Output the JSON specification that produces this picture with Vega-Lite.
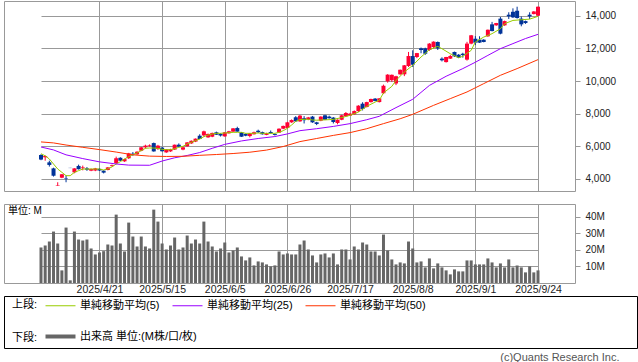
{
  "$schema": "https://vega.github.io/schema/vega-lite/v6.json",
  "padding": {"left": 3, "top": 0, "right": 0, "bottom": 0},
  "background": "white",
  "config": {
    "font": "Liberation Sans, Noto Sans CJK JP",
    "view": {"stroke": "#999999"},
    "axis": {"gridColor": "#999999", "gridWidth": 1, "labelFont": "Liberation Sans, Noto Sans CJK JP", "labelFontSize": 10, "labelColor": "#222222", "domain": false, "ticks": false, "title": null},
    "legend": {"labelFont": "Liberation Sans, Noto Sans CJK JP", "labelFontSize": 11, "labelColor": "#000000", "titleFont": "Liberation Sans, Noto Sans CJK JP", "titleFontSize": 11, "titleFontWeight": "normal", "titleColor": "#000000"}
  },
  "datasets": {
    "k": [
      {"d":"2025-04-01","o":5470,"h":5520,"l":5150,"c":5190,"vol":21.4},
      {"d":"2025-04-02","o":5330,"h":5440,"l":5120,"c":5410,"vol":22.6},
      {"d":"2025-04-03","o":5020,"h":5120,"l":4760,"c":4860,"vol":25},
      {"d":"2025-04-04","o":4650,"h":4690,"l":4150,"c":4200,"vol":31},
      {"d":"2025-04-07","o":3590,"h":3800,"l":3580,"c":3620,"vol":23.8},
      {"d":"2025-04-08","o":4080,"h":4300,"l":4050,"c":4290,"vol":7.6},
      {"d":"2025-04-09","o":4060,"h":4220,"l":3800,"c":4030,"vol":33.4},
      {"d":"2025-04-10","o":4680,"h":4680,"l":4670,"c":4670,"vol":1.6},
      {"d":"2025-04-11","o":4410,"h":4660,"l":4350,"c":4650,"vol":31},
      {"d":"2025-04-14","o":4800,"h":4880,"l":4580,"c":4600,"vol":26.2},
      {"d":"2025-04-15","o":4660,"h":4820,"l":4530,"c":4710,"vol":25.6},
      {"d":"2025-04-16","o":4650,"h":4730,"l":4500,"c":4570,"vol":26.2},
      {"d":"2025-04-17","o":4510,"h":4640,"l":4480,"c":4610,"vol":20.8},
      {"d":"2025-04-18","o":4520,"h":4680,"l":4480,"c":4650,"vol":17.2},
      {"d":"2025-04-21","o":4620,"h":4660,"l":4490,"c":4520,"vol":18.4},
      {"d":"2025-04-22","o":4510,"h":4530,"l":4340,"c":4390,"vol":19.2},
      {"d":"2025-04-23","o":4550,"h":4730,"l":4530,"c":4710,"vol":23.2},
      {"d":"2025-04-24","o":4790,"h":4880,"l":4760,"c":4840,"vol":22.6},
      {"d":"2025-04-25","o":4980,"h":5370,"l":4900,"c":5270,"vol":41.2},
      {"d":"2025-04-28","o":5300,"h":5330,"l":5100,"c":5120,"vol":23.8},
      {"d":"2025-04-30","o":5080,"h":5240,"l":5050,"c":5220,"vol":19},
      {"d":"2025-05-01","o":5270,"h":5600,"l":5230,"c":5570,"vol":36.4},
      {"d":"2025-05-02","o":5550,"h":5650,"l":5420,"c":5510,"vol":28},
      {"d":"2025-05-07","o":5510,"h":5700,"l":5480,"c":5670,"vol":22},
      {"d":"2025-05-08","o":5730,"h":5960,"l":5700,"c":5940,"vol":28},
      {"d":"2025-05-09","o":5940,"h":6100,"l":5860,"c":6040,"vol":22},
      {"d":"2025-05-12","o":6010,"h":6120,"l":5980,"c":6060,"vol":20.8},
      {"d":"2025-05-13","o":6200,"h":6230,"l":5670,"c":5690,"vol":44.2},
      {"d":"2025-05-14","o":5840,"h":6090,"l":5780,"c":6040,"vol":37},
      {"d":"2025-05-15","o":5920,"h":5960,"l":5680,"c":5700,"vol":23.8},
      {"d":"2025-05-16","o":5630,"h":5830,"l":5600,"c":5820,"vol":20.2},
      {"d":"2025-05-19","o":5690,"h":5850,"l":5660,"c":5820,"vol":22.6},
      {"d":"2025-05-20","o":5800,"h":6110,"l":5780,"c":6100,"vol":27.4},
      {"d":"2025-05-21","o":6100,"h":6180,"l":5960,"c":5980,"vol":20.2},
      {"d":"2025-05-22","o":5800,"h":6000,"l":5760,"c":5940,"vol":21.4},
      {"d":"2025-05-23","o":6000,"h":6260,"l":5980,"c":6240,"vol":28.6},
      {"d":"2025-05-26","o":6180,"h":6360,"l":6150,"c":6340,"vol":23.8},
      {"d":"2025-05-27","o":6290,"h":6480,"l":6260,"c":6470,"vol":26.2},
      {"d":"2025-05-28","o":6650,"h":6740,"l":6430,"c":6450,"vol":23.8},
      {"d":"2025-05-29","o":6670,"h":6960,"l":6600,"c":6920,"vol":37},
      {"d":"2025-05-30","o":6550,"h":6780,"l":6520,"c":6760,"vol":25},
      {"d":"2025-06-02","o":6590,"h":6840,"l":6560,"c":6820,"vol":22},
      {"d":"2025-06-03","o":6860,"h":6900,"l":6700,"c":6710,"vol":19},
      {"d":"2025-06-04","o":6760,"h":6800,"l":6600,"c":6660,"vol":20.8},
      {"d":"2025-06-05","o":6610,"h":6880,"l":6590,"c":6860,"vol":24.4},
      {"d":"2025-06-06","o":6800,"h":6950,"l":6780,"c":6920,"vol":18.4},
      {"d":"2025-06-09","o":6900,"h":7120,"l":6880,"c":7100,"vol":19.6},
      {"d":"2025-06-10","o":7120,"h":7200,"l":6890,"c":6900,"vol":21.4},
      {"d":"2025-06-11","o":6860,"h":6870,"l":6580,"c":6590,"vol":16},
      {"d":"2025-06-12","o":6760,"h":6790,"l":6620,"c":6650,"vol":13.6},
      {"d":"2025-06-13","o":6630,"h":6820,"l":6550,"c":6800,"vol":15.4},
      {"d":"2025-06-16","o":6740,"h":6900,"l":6720,"c":6860,"vol":10.6},
      {"d":"2025-06-17","o":6960,"h":7020,"l":6820,"c":6860,"vol":13},
      {"d":"2025-06-18","o":6870,"h":6900,"l":6720,"c":6740,"vol":12.4},
      {"d":"2025-06-19","o":6700,"h":6830,"l":6680,"c":6800,"vol":11.2},
      {"d":"2025-06-20","o":6880,"h":6970,"l":6780,"c":6800,"vol":10},
      {"d":"2025-06-23","o":6760,"h":6790,"l":6660,"c":6700,"vol":10.6},
      {"d":"2025-06-24","o":6840,"h":7100,"l":6820,"c":7080,"vol":19},
      {"d":"2025-06-25","o":7080,"h":7270,"l":7050,"c":7250,"vol":17.2},
      {"d":"2025-06-26","o":7120,"h":7500,"l":7100,"c":7470,"vol":17.8},
      {"d":"2025-06-27","o":7470,"h":7650,"l":7440,"c":7610,"vol":17.2},
      {"d":"2025-06-30","o":7780,"h":7850,"l":7500,"c":7530,"vol":17.2},
      {"d":"2025-07-01","o":7530,"h":7920,"l":7500,"c":7880,"vol":23.2},
      {"d":"2025-07-02","o":7720,"h":7850,"l":7400,"c":7600,"vol":25.6},
      {"d":"2025-07-03","o":7650,"h":7800,"l":7600,"c":7770,"vol":20.2},
      {"d":"2025-07-04","o":7820,"h":7860,"l":7440,"c":7470,"vol":16.6},
      {"d":"2025-07-07","o":7470,"h":7500,"l":7300,"c":7370,"vol":12.4},
      {"d":"2025-07-08","o":7570,"h":7840,"l":7540,"c":7820,"vol":17.2},
      {"d":"2025-07-09","o":7900,"h":7930,"l":7610,"c":7630,"vol":17.8},
      {"d":"2025-07-10","o":7820,"h":7880,"l":7700,"c":7720,"vol":15.4},
      {"d":"2025-07-11","o":7760,"h":7790,"l":7400,"c":7490,"vol":17.8},
      {"d":"2025-07-14","o":7430,"h":7650,"l":7350,"c":7630,"vol":11.2},
      {"d":"2025-07-15","o":7630,"h":7930,"l":7600,"c":7900,"vol":20.2},
      {"d":"2025-07-16","o":7840,"h":8100,"l":7820,"c":8040,"vol":20.2},
      {"d":"2025-07-17","o":7880,"h":8050,"l":7860,"c":8000,"vol":14.2},
      {"d":"2025-07-18","o":7960,"h":8200,"l":7940,"c":8160,"vol":22},
      {"d":"2025-07-22","o":8160,"h":8520,"l":8100,"c":8490,"vol":20.2},
      {"d":"2025-07-23","o":8610,"h":8700,"l":8200,"c":8290,"vol":24.4},
      {"d":"2025-07-24","o":8410,"h":8730,"l":8380,"c":8710,"vol":23.2},
      {"d":"2025-07-25","o":8710,"h":8920,"l":8680,"c":8900,"vol":19},
      {"d":"2025-07-28","o":8920,"h":8960,"l":8760,"c":8780,"vol":19},
      {"d":"2025-07-29","o":8710,"h":8960,"l":8690,"c":8940,"vol":16.6},
      {"d":"2025-07-30","o":9250,"h":9780,"l":9200,"c":9710,"vol":29.2},
      {"d":"2025-07-31","o":9980,"h":10420,"l":9900,"c":10390,"vol":19.6},
      {"d":"2025-08-01","o":10050,"h":10400,"l":9950,"c":10380,"vol":14.2},
      {"d":"2025-08-04","o":9850,"h":10320,"l":9750,"c":10290,"vol":11.2},
      {"d":"2025-08-05","o":10410,"h":10700,"l":10380,"c":10690,"vol":12.4},
      {"d":"2025-08-06","o":10410,"h":10980,"l":10300,"c":10960,"vol":11.8},
      {"d":"2025-08-07","o":10920,"h":11780,"l":10860,"c":11530,"vol":25},
      {"d":"2025-08-08","o":11530,"h":11880,"l":10860,"c":11000,"vol":20.8},
      {"d":"2025-08-12","o":11470,"h":11720,"l":11400,"c":11710,"vol":12.4},
      {"d":"2025-08-13","o":12000,"h":12050,"l":11700,"c":11900,"vol":13},
      {"d":"2025-08-14","o":12000,"h":12040,"l":11600,"c":11670,"vol":9.4},
      {"d":"2025-08-15","o":11900,"h":12320,"l":11850,"c":12290,"vol":14.8},
      {"d":"2025-08-18","o":12080,"h":12430,"l":12000,"c":12410,"vol":8.8},
      {"d":"2025-08-19","o":12390,"h":12420,"l":11900,"c":12000,"vol":11.8},
      {"d":"2025-08-20","o":11370,"h":11450,"l":11200,"c":11270,"vol":9.4},
      {"d":"2025-08-21","o":11160,"h":11480,"l":11130,"c":11470,"vol":7.6},
      {"d":"2025-08-22","o":11370,"h":11600,"l":11350,"c":11530,"vol":5.2},
      {"d":"2025-08-25","o":11780,"h":11800,"l":11480,"c":11510,"vol":8.2},
      {"d":"2025-08-26","o":11610,"h":11650,"l":11400,"c":11430,"vol":7},
      {"d":"2025-08-27","o":11670,"h":11730,"l":11430,"c":11590,"vol":7},
      {"d":"2025-08-28","o":11310,"h":12400,"l":11250,"c":12290,"vol":13.6},
      {"d":"2025-08-29","o":12290,"h":12820,"l":12250,"c":12800,"vol":13.6},
      {"d":"2025-09-01","o":12590,"h":12750,"l":12200,"c":12350,"vol":11.2},
      {"d":"2025-09-02","o":12530,"h":12740,"l":12330,"c":12350,"vol":11.2},
      {"d":"2025-09-03","o":12530,"h":12560,"l":12370,"c":12390,"vol":11.2},
      {"d":"2025-09-04","o":12740,"h":13150,"l":12700,"c":13140,"vol":14.8},
      {"d":"2025-09-05","o":13470,"h":13620,"l":13040,"c":13060,"vol":12.4},
      {"d":"2025-09-08","o":13410,"h":13560,"l":13380,"c":13550,"vol":9.4},
      {"d":"2025-09-09","o":13820,"h":13920,"l":12860,"c":12900,"vol":11.8},
      {"d":"2025-09-10","o":13410,"h":13700,"l":13380,"c":13670,"vol":9.4},
      {"d":"2025-09-11","o":14060,"h":14210,"l":13800,"c":13960,"vol":14.2},
      {"d":"2025-09-12","o":14240,"h":14450,"l":13860,"c":13900,"vol":9.4},
      {"d":"2025-09-16","o":14310,"h":14550,"l":13820,"c":13860,"vol":10.6},
      {"d":"2025-09-17","o":13820,"h":13950,"l":13350,"c":13470,"vol":9.4},
      {"d":"2025-09-18","o":13670,"h":13700,"l":13500,"c":13550,"vol":6.4},
      {"d":"2025-09-19","o":14060,"h":14210,"l":13800,"c":13960,"vol":10},
      {"d":"2025-09-22","o":14100,"h":14280,"l":14080,"c":14260,"vol":6.4},
      {"d":"2025-09-24","o":14000,"h":14560,"l":13980,"c":14550,"vol":7.6}
    ],
    "ma": [
      {"d":"2025-04-01","s":"5","v":5550},{"d":"2025-04-02","s":"5","v":5420},{"d":"2025-04-03","s":"5","v":5225},{"d":"2025-04-04","s":"5","v":4918},
      {"d":"2025-04-07","s":"5","v":4612},{"d":"2025-04-08","s":"5","v":4408},{"d":"2025-04-09","s":"5","v":4204},{"d":"2025-04-10","s":"5","v":4204},
      {"d":"2025-04-11","s":"5","v":4408},{"d":"2025-04-14","s":"5","v":4510},{"d":"2025-04-15","s":"5","v":4612},{"d":"2025-04-16","s":"5","v":4612},
      {"d":"2025-04-17","s":"5","v":4612},{"d":"2025-04-18","s":"5","v":4612},{"d":"2025-04-21","s":"5","v":4612},{"d":"2025-04-22","s":"5","v":4551},
      {"d":"2025-04-23","s":"5","v":4620},{"d":"2025-04-24","s":"5","v":4740},{"d":"2025-04-25","s":"5","v":4918},{"d":"2025-04-28","s":"5","v":5061},
      {"d":"2025-04-30","s":"5","v":5225},{"d":"2025-05-01","s":"5","v":5367},{"d":"2025-05-02","s":"5","v":5490},{"d":"2025-05-07","s":"5","v":5592},
      {"d":"2025-05-08","s":"5","v":5735},{"d":"2025-05-09","s":"5","v":5878},{"d":"2025-05-12","s":"5","v":5898},{"d":"2025-05-13","s":"5","v":5898},
      {"d":"2025-05-14","s":"5","v":5878},{"d":"2025-05-15","s":"5","v":5816},{"d":"2025-05-16","s":"5","v":5796},{"d":"2025-05-19","s":"5","v":5796},
      {"d":"2025-05-20","s":"5","v":5857},{"d":"2025-05-21","s":"5","v":5939},{"d":"2025-05-22","s":"5","v":6000},{"d":"2025-05-23","s":"5","v":6143},
      {"d":"2025-05-26","s":"5","v":6245},{"d":"2025-05-27","s":"5","v":6347},{"d":"2025-05-28","s":"5","v":6449},{"d":"2025-05-29","s":"5","v":6592},
      {"d":"2025-05-30","s":"5","v":6694},{"d":"2025-06-02","s":"5","v":6755},{"d":"2025-06-03","s":"5","v":6796},{"d":"2025-06-04","s":"5","v":6796},
      {"d":"2025-06-05","s":"5","v":6816},{"d":"2025-06-06","s":"5","v":6837},{"d":"2025-06-09","s":"5","v":6857},{"d":"2025-06-10","s":"5","v":6857},
      {"d":"2025-06-11","s":"5","v":6857},{"d":"2025-06-12","s":"5","v":6796},{"d":"2025-06-13","s":"5","v":6796},{"d":"2025-06-16","s":"5","v":6796},
      {"d":"2025-06-17","s":"5","v":6816},{"d":"2025-06-18","s":"5","v":6796},{"d":"2025-06-19","s":"5","v":6796},{"d":"2025-06-20","s":"5","v":6796},
      {"d":"2025-06-23","s":"5","v":6796},{"d":"2025-06-24","s":"5","v":6857},{"d":"2025-06-25","s":"5","v":6959},{"d":"2025-06-26","s":"5","v":7102},
      {"d":"2025-06-27","s":"5","v":7306},{"d":"2025-06-30","s":"5","v":7531},{"d":"2025-07-01","s":"5","v":7640},{"d":"2025-07-02","s":"5","v":7653},
      {"d":"2025-07-03","s":"5","v":7660},{"d":"2025-07-04","s":"5","v":7613},{"d":"2025-07-07","s":"5","v":7600},{"d":"2025-07-08","s":"5","v":7613},
      {"d":"2025-07-09","s":"5","v":7620},{"d":"2025-07-11","s":"5","v":7650},{"d":"2025-07-15","s":"5","v":7760},{"d":"2025-07-17","s":"5","v":7900},
      {"d":"2025-07-22","s":"5","v":8100},{"d":"2025-07-24","s":"5","v":8450},{"d":"2025-07-28","s":"5","v":8710},{"d":"2025-07-29","s":"5","v":8820},
      {"d":"2025-07-30","s":"5","v":9270},{"d":"2025-08-01","s":"5","v":9670},{"d":"2025-08-04","s":"5","v":10040},{"d":"2025-08-06","s":"5","v":10550},
      {"d":"2025-08-08","s":"5","v":10960},{"d":"2025-08-13","s":"5","v":11470},{"d":"2025-08-15","s":"5","v":11920},{"d":"2025-08-19","s":"5","v":12120},
      {"d":"2025-08-20","s":"5","v":11980},{"d":"2025-08-22","s":"5","v":11670},{"d":"2025-08-26","s":"5","v":11430},{"d":"2025-08-27","s":"5","v":11510},
      {"d":"2025-08-29","s":"5","v":11880},{"d":"2025-09-01","s":"5","v":12390},{"d":"2025-09-03","s":"5","v":12690},{"d":"2025-09-05","s":"5","v":12900},
      {"d":"2025-09-09","s":"5","v":13200},{"d":"2025-09-10","s":"5","v":13510},{"d":"2025-09-12","s":"5","v":13710},{"d":"2025-09-17","s":"5","v":13750},
      {"d":"2025-09-19","s":"5","v":13790},{"d":"2025-09-24","s":"5","v":13960},
      {"d":"2025-04-01","s":"25","v":5960},{"d":"2025-04-04","s":"25","v":5780},{"d":"2025-04-09","s":"25","v":5480},{"d":"2025-04-15","s":"25","v":5250},
      {"d":"2025-04-21","s":"25","v":5050},{"d":"2025-04-25","s":"25","v":4920},{"d":"2025-05-01","s":"25","v":4850},{"d":"2025-05-12","s":"25","v":4840},
      {"d":"2025-05-15","s":"25","v":5100},{"d":"2025-05-20","s":"25","v":5300},{"d":"2025-05-23","s":"25","v":5440},{"d":"2025-05-28","s":"25","v":5620},
      {"d":"2025-06-02","s":"25","v":5880},{"d":"2025-06-05","s":"25","v":6120},{"d":"2025-06-11","s":"25","v":6330},{"d":"2025-06-17","s":"25","v":6480},
      {"d":"2025-06-23","s":"25","v":6600},{"d":"2025-06-26","s":"25","v":6760},{"d":"2025-07-01","s":"25","v":6960},{"d":"2025-07-07","s":"25","v":7080},
      {"d":"2025-07-11","s":"25","v":7220},{"d":"2025-07-17","s":"25","v":7390},{"d":"2025-07-24","s":"25","v":7630},{"d":"2025-07-29","s":"25","v":7840},
      {"d":"2025-08-04","s":"25","v":8370},{"d":"2025-08-08","s":"25","v":8880},{"d":"2025-08-15","s":"25","v":9730},{"d":"2025-08-21","s":"25","v":10290},
      {"d":"2025-08-27","s":"25","v":10760},{"d":"2025-09-01","s":"25","v":11150},{"d":"2025-09-04","s":"25","v":11570},{"d":"2025-09-09","s":"25","v":11980},
      {"d":"2025-09-12","s":"25","v":12290},{"d":"2025-09-18","s":"25","v":12600},{"d":"2025-09-24","s":"25","v":12860},
      {"d":"2025-04-01","s":"50","v":6270},{"d":"2025-04-04","s":"50","v":6210},{"d":"2025-04-09","s":"50","v":6080},{"d":"2025-04-15","s":"50","v":5940},
      {"d":"2025-04-21","s":"50","v":5800},{"d":"2025-04-25","s":"50","v":5650},{"d":"2025-05-02","s":"50","v":5480},{"d":"2025-05-12","s":"50","v":5400},
      {"d":"2025-05-16","s":"50","v":5380},{"d":"2025-05-22","s":"50","v":5390},{"d":"2025-05-28","s":"50","v":5450},{"d":"2025-06-03","s":"50","v":5500},
      {"d":"2025-06-09","s":"50","v":5560},{"d":"2025-06-13","s":"50","v":5640},{"d":"2025-06-19","s":"50","v":5770},{"d":"2025-06-25","s":"50","v":5990},
      {"d":"2025-07-01","s":"50","v":6290},{"d":"2025-07-07","s":"50","v":6480},{"d":"2025-07-11","s":"50","v":6670},{"d":"2025-07-17","s":"50","v":6840},
      {"d":"2025-07-24","s":"50","v":7080},{"d":"2025-07-30","s":"50","v":7390},{"d":"2025-08-05","s":"50","v":7690},{"d":"2025-08-08","s":"50","v":7960},
      {"d":"2025-08-18","s":"50","v":8510},{"d":"2025-08-22","s":"50","v":8920},{"d":"2025-08-28","s":"50","v":9330},{"d":"2025-09-03","s":"50","v":9840},
      {"d":"2025-09-09","s":"50","v":10350},{"d":"2025-09-16","s":"50","v":10760},{"d":"2025-09-24","s":"50","v":11310}
    ]
  },
  "title": {"text": "(c)Quants Research Inc.", "orient": "bottom", "anchor": "end", "fontSize": 11, "fontWeight": "normal", "color": "#555555", "offset": 3, "dx": -18, "font": "Liberation Sans"},
  "spacing": 0,
  "resolve": {"scale": {"color": "independent", "stroke": "independent"}, "legend": {"color": "independent", "stroke": "independent"}},
  "vconcat": [
    {
      "spacing": 11,
      "vconcat": [
        {
          "width": 571,
          "height": 190,
          "layer": [
            {
              "data": {"name": "k"},
              "mark": {"type": "rule", "strokeWidth": 1},
              "encoding": {
                "x": {"field": "d", "type": "ordinal", "scale": {"type": "point", "padding": 0, "range": [37, 534]},
                      "axis": {"values": ["2025-04-21","2025-05-15","2025-06-05","2025-06-26","2025-07-17","2025-08-08","2025-09-01","2025-09-24"], "labels": false, "ticks": false, "domain": false, "grid": true, "title": null}},
                "y": {"field": "l", "type": "quantitative", "scale": {"domain": [3265, 14900], "nice": false, "zero": false},
                      "axis": {"orient": "right", "values": [4000, 6000, 8000, 10000, 12000, 14000], "tickCount": 20, "labelExpr": "format(datum.value, ',')", "labelOverlap": false, "ticks": true, "tickSize": 5, "tickColor": "#999999", "labelPadding": 5, "grid": true, "title": null}},
                "y2": {"field": "h"},
                "color": {"condition": {"test": "datum.c >= datum.o", "value": "#ff0033"}, "value": "#003399"}
              }
            },
            {
              "data": {"name": "k"},
              "mark": {"type": "bar", "width": 4},
              "encoding": {
                "x": {"field": "d", "type": "ordinal"},
                "y": {"field": "o", "type": "quantitative"},
                "y2": {"field": "c"},
                "color": {"condition": {"test": "datum.c >= datum.o", "value": "#ff0033"}, "value": "#003399"}
              }
            },
            {
              "data": {"name": "ma"},
              "mark": {"type": "line", "strokeWidth": 1},
              "encoding": {
                "x": {"field": "d", "type": "ordinal"},
                "y": {"field": "v", "type": "quantitative"},
                "color": {"field": "s", "type": "nominal", "scale": {"domain": ["5", "25", "50"], "range": ["#99cc00", "#9900ff", "#ff3300"]}, "legend": null}
              }
            }
          ]
        },
        {
          "width": 571,
          "height": 79,
          "title": {"text": "単位: M", "anchor": "start", "frame": "group", "orient": "top", "offset": -12, "fontSize": 10, "fontWeight": "normal", "color": "#000000", "dx": 4, "font": "Liberation Sans, Noto Sans CJK JP"},
          "data": {"name": "k"},
          "mark": {"type": "bar", "width": 3, "color": "#666666"},
          "encoding": {
            "x": {"field": "d", "type": "ordinal", "scale": {"type": "point", "padding": 0, "range": [37, 534]},
                  "axis": {"values": ["2025-04-21","2025-05-15","2025-06-05","2025-06-26","2025-07-17","2025-08-08","2025-09-01","2025-09-24"],
                           "labelExpr": "utcFormat(toDate(datum.value), '%Y/%-m/%-d')", "labelAngle": 0, "labelPadding": 1, "labelFontSize": 10.5, "ticks": false, "domain": false, "grid": true, "title": null, "labelOverlap": false}},
            "y": {"field": "vol", "type": "quantitative", "scale": {"domain": [0, 47.6], "nice": false},
                  "axis": {"orient": "right", "values": [10, 20, 30, 40], "tickCount": 20, "labelExpr": "datum.value + 'M'", "labelOverlap": false, "ticks": true, "tickSize": 5, "tickColor": "#999999", "labelPadding": 5, "grid": true, "title": null}}
          }
        }
      ]
    },
    {
      "width": 633,
      "height": 52,
      "view": {"stroke": "#000000", "strokeWidth": 1},
      "data": {"values": []},
      "layer": [
        {
          "mark": {"type": "line"},
          "encoding": {
            "color": {"field": "s", "type": "nominal",
                      "scale": {"domain": ["単純移動平均(5)", "単純移動平均(25)", "単純移動平均(50)"], "range": ["#99cc00", "#9900ff", "#ff3300"]},
                      "legend": {"title": "上段:", "titleOrient": "left", "titlePadding": 17, "titleBaseline": "middle", "orient": "none", "legendX": 8, "legendY": 4, "direction": "horizontal", "symbolType": "M-5,0H5", "symbolSize": 36, "symbolStrokeWidth": 1, "labelOffset": 14, "columnPadding": 10, "padding": 0, "labelLimit": 300}}
          }
        },
        {
          "mark": {"type": "line"},
          "encoding": {
            "stroke": {"field": "t", "type": "nominal",
                      "scale": {"domain": ["出来高 単位:(M株/口/枚)"], "range": ["#666666"]},
                      "legend": {"title": "下段:", "titleOrient": "left", "titlePadding": 17, "titleBaseline": "middle", "orient": "none", "legendX": 8, "legendY": 35, "direction": "horizontal", "symbolType": "M-5,0H5", "symbolSize": 36, "symbolStrokeWidth": 4, "labelOffset": 14, "padding": 0, "labelLimit": 300}}
          }
        }
      ]
    }
  ]
}
